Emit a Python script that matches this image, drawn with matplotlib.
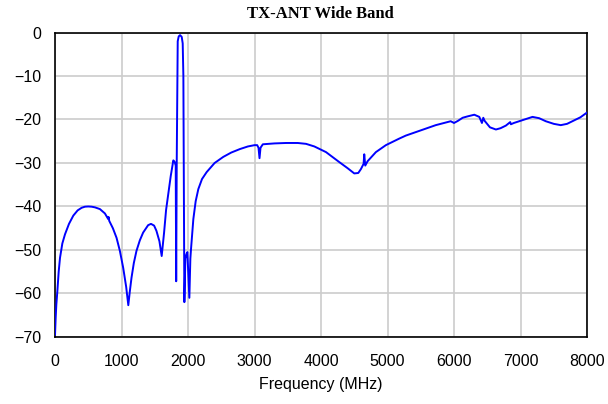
import matplotlib
matplotlib.use("Agg")
import matplotlib.pyplot as plt

title = "TX-ANT Wide Band"
x_label = "Frequency (MHz)"
x_ticks = [0, 1000, 2000, 3000, 4000, 5000, 6000, 7000, 8000]
y_ticks = [0, -10, -20, -30, -40, -50, -60, -70]

freq = [0, 10, 20, 35, 55, 75, 110, 150, 210, 275, 340, 400, 450, 500, 550, 600, 675, 750, 800, 805, 815,
        870, 925, 975, 1025, 1070, 1102, 1125, 1150, 1185, 1225, 1275, 1325, 1400, 1443, 1490, 1525,
        1570, 1604, 1640, 1670, 1700, 1740, 1779, 1800, 1815, 1822, 1830, 1845, 1860, 1880, 1905, 1920,
        1930, 1945, 1960, 1975, 1990, 2005, 2020, 2035, 2045, 2080, 2115, 2155, 2210, 2280, 2400,
        2530, 2650, 2780, 2900, 3000, 3040, 3060, 3075, 3090, 3125, 3300, 3475, 3650,
        3775, 3900, 4075, 4275, 4400, 4500, 4560, 4600, 4640, 4650, 4665, 4700, 4825,
        4975, 5175, 5275, 5425, 5575, 5725, 5875, 5950, 6000, 6060, 6130, 6200, 6305,
        6380, 6420, 6440, 6460, 6540, 6630, 6700, 6780, 6845, 6855, 6900, 6980, 7080,
        7180, 7280, 7380, 7500, 7605, 7700, 7780, 7900, 8000]
s11 = [-69.5, -65.5, -62.5, -59.5, -55.0, -51.8, -48.5, -46.4, -44.0, -42.1, -40.9, -40.3, -40.05, -40.0, -40.05, -40.2, -40.6, -41.6, -42.9, -42.4, -43.3,
       -45.0, -47.2, -50.2, -54.1, -58.5, -62.7, -59.5, -56.4, -53.0, -50.2, -47.8, -46.0, -44.3, -44.0, -44.4, -45.6,
       -48.0, -51.4, -46.0, -40.8, -37.5, -33.0, -29.4, -29.8, -30.6, -57.2, -30.0, -2.0, -0.9, -0.6, -1.0, -2.5,
       -10.0, -62.0, -52.0, -51.0, -50.5, -56.0, -61.0, -52.0, -49.8, -42.9, -38.8, -36.0, -33.7, -32.1, -30.0,
       -28.6, -27.6, -26.8, -26.2, -25.9, -25.9, -26.5, -28.9, -26.5, -25.7, -25.5, -25.4, -25.4,
       -25.6, -26.2, -27.5, -29.8, -31.2, -32.4, -32.3, -31.4, -30.2, -28.0, -30.6, -29.6, -27.5,
       -25.9, -24.4, -23.7, -22.9, -22.1, -21.3, -20.7, -20.4, -20.8, -20.3, -19.6, -19.3, -18.9,
       -19.4, -20.8, -19.6, -20.3, -21.8, -22.3, -22.0, -21.4, -20.6, -21.1, -20.8, -20.4, -19.9,
       -19.4, -19.7, -20.4, -21.0, -21.3, -21.0, -20.4, -19.5, -18.4]

plt.rcParams['font.family'] = ['Liberation Sans', 'DejaVu Sans']

fig = plt.figure(figsize=(6.08, 4.04), dpi=100)
ax = fig.add_axes([0.0905, 0.166, 0.875, 0.7535])

ax.plot(freq, s11, color="#0000ff", linewidth=1.4, zorder=3)

ax.set_xlim(0, 8000)
ax.set_ylim(-70, 0)
ax.set_xticks(x_ticks)
ax.set_yticks(y_ticks)
ax.tick_params(axis='both', length=0, labelsize=11.5, pad=10, colors='black')
ax.tick_params(axis='x', pad=12)
ax.grid(True, color="#cccccc", linewidth=1.2, zorder=0)
for sp in ax.spines.values():
    sp.set_color('black')
    sp.set_linewidth(1.2)

ax.set_xlabel(x_label, fontsize=11.5, labelpad=6)
fig.text(0.527, 0.965, title, ha='center', va='center', fontsize=12,
         fontweight='bold', family=['Liberation Serif', 'DejaVu Serif'])

fig.savefig("out.png", dpi=100)
